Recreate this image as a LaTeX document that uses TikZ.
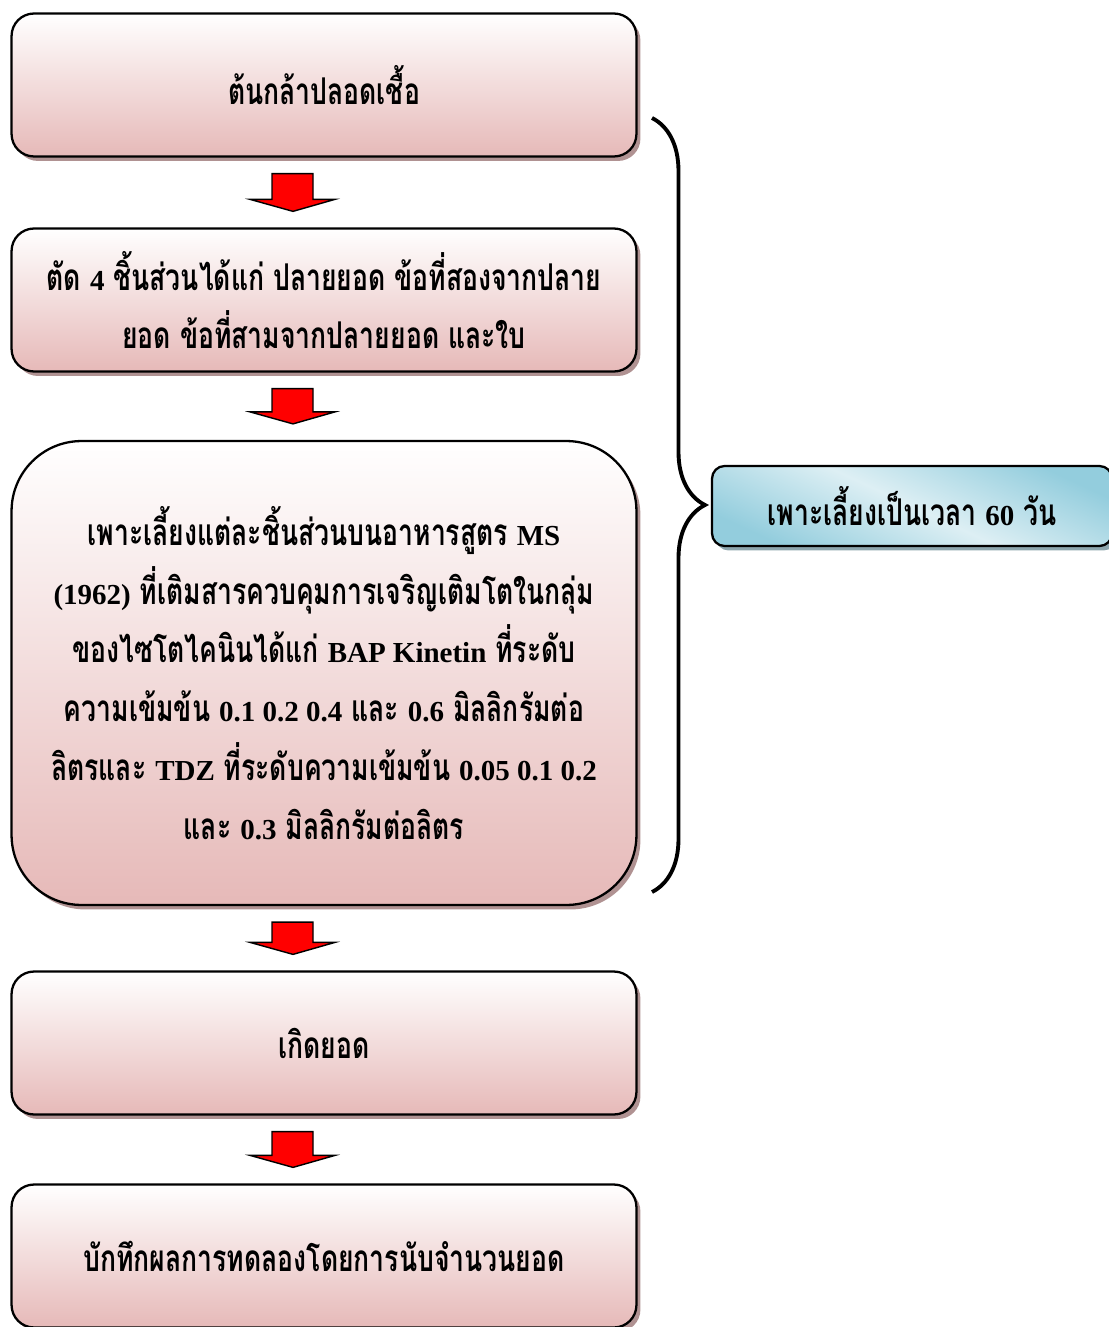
\documentclass[tikz,border=0pt]{standalone}
\usepackage{fontspec}
\setmainfont{Loma}[Script=Thai, FakeStretch=0.72]
\newfontfamily\en{Liberation Serif}
\newcommand{\lat}[1]{{\en\fontsize{16.5}{33.5}\selectfont #1}}
\usetikzlibrary{shadows,calc,decorations.pathreplacing}

\definecolor{pinkbot}{HTML}{E6B9B8}
\definecolor{pinkshadow}{HTML}{B09292}
\definecolor{bluedark}{HTML}{93CDDD}
\definecolor{bluelight}{HTML}{DDEFF4}
\definecolor{blueshadow}{HTML}{8DA6AE}

\tikzset{
  stepbox/.style={draw, line width=1.3pt, rounded corners=0.45cm,
    minimum width=12.5cm, minimum height=2.86cm, align=center,
    top color=white, bottom color=pinkbot,
    drop shadow={shadow xshift=0.08cm, shadow yshift=-0.09cm, fill=pinkshadow, opacity=1},
    font=\bfseries\fontsize{21}{33.5}\selectfont},
  timebox/.style={draw, line width=1.3pt, rounded corners=0.25cm,
    minimum width=8cm, minimum height=1.6cm, align=center,
    shading=axis, top color=bluedark, bottom color=bluedark, middle color=bluelight,
    shading angle=-25,
    drop shadow={shadow xshift=0.08cm, shadow yshift=-0.09cm, fill=blueshadow, opacity=1},
    font=\bfseries\fontsize{21}{33.5}\selectfont},
  blockarrow/.style={draw, line width=0.8pt, fill=red, line join=miter},
  bigbrace/.style={draw, line width=2.2pt, decorate,
    decoration={brace, amplitude=1.06cm}}
}

\begin{document}
\begin{tikzpicture}
  [x=0.02cm,y=-0.02cm]
  \useasboundingbox (0,0) rectangle (1108,1327);
  \node[stepbox] (b1) at (324,85) {ต้นกล้าปลอดเชื้อ};
  \node[stepbox] (b2) at (324,300) {ตัด \lat{4} ชิ้นส่วนได้แก่ ปลายยอด ข้อที่สองจากปลาย\\
    ยอด ข้อที่สามจากปลายยอด และใบ};
  \node[stepbox, minimum height=9.28cm, rounded corners=1.4cm] (b3) at (324,673)
    {เพาะเลี้ยงแต่ละชิ้นส่วนบนอาหารสูตร \lat{MS}\\
     \lat{(1962)} ที่เติมสารควบคุมการเจริญเติมโตในกลุ่ม\\
     ของไซโตไคนินได้แก่ \lat{BAP Kinetin} ที่ระดับ\\
     ความเข้มข้น \lat{0.1 0.2 0.4} และ \lat{0.6} มิลลิกรัมต่อ\\
     ลิตรและ \lat{TDZ} ที่ระดับความเข้มข้น \lat{0.05 0.1 0.2}\\
     และ \lat{0.3} มิลลิกรัมต่อลิตร};
  \node[stepbox] (b4) at (324,1043) {เกิดยอด};
  \node[stepbox] (b5) at (324,1256) {บักทึกผลการทดลองโดยการนับจำนวนยอด};
  \node[timebox] (t1) at (912,506) {เพาะเลี้ยงเป็นเวลา \lat{60} วัน};

  \coordinate (bt) at (652,118);
  \coordinate (bb) at (652,892);
  \draw[bigbrace] (bt) -- (bb);

  \foreach \from/\to in {b1/b2,b2/b3,b3/b4,b4/b5}
    \draw[blockarrow] ($(\from.south)+(-52,16)$) -- ($(\from.south)+(-11,16)$)
      -- ($(\to.north)+(-11,-28)$) -- ($(\to.north)+(11,-28)$)
      -- ($(\to.north)+(-31,-16)$) -- ($(\to.north)+(-74,-28)$)
      -- ($(\to.north)+(-52,-28)$) -- cycle;
\end{tikzpicture}
\end{document}
